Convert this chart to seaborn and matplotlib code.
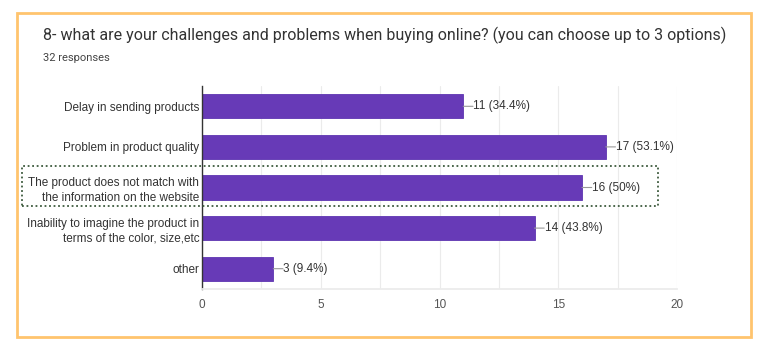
import matplotlib
matplotlib.use("Agg")
import matplotlib.pyplot as plt
import matplotlib.patches as mpatches
import seaborn as sns
import pandas as pd
from matplotlib.ticker import MultipleLocator

categories = [
    "Delay in sending products",
    "Problem in product quality",
    "The product does not match with\nthe information on the website",
    "Inability to imagine the product in\nterms of the color, size,etc",
    "other",
]
counts = [11, 17, 16, 14, 3]
percents = ["34.4%", "53.1%", "50%", "43.8%", "9.4%"]
xticks = [0, 5, 10, 15, 20]
title = "8- what are your challenges and problems when buying online? (you can choose up to 3 options)"
subtitle = "32 responses"

sns.set_theme(style="white")
plt.rcParams['font.family'] = ['Liberation Sans', 'DejaVu Sans']

W, H = 768, 353
fig = plt.figure(figsize=(W / 100, H / 100), dpi=100)
ax = fig.add_axes([202 / W, 1 - 289 / H, (677 - 202) / W, (289 - 86) / H])

df = pd.DataFrame({"cat": categories, "n": counts})
sns.barplot(data=df, y="cat", x="n", color="#673ab7", saturation=1, width=0.6,
            ax=ax, orient="h")
for p in ax.patches:
    p.set_edgecolor("#5e35b1")
    p.set_linewidth(0.6)

ax.set_xlim(0, 20)
ax.set_ylim(4.5, -0.5)
ax.set_xticks(xticks)
ax.xaxis.set_minor_locator(MultipleLocator(2.5))
ax.grid(True, axis="x", which="both", color="#ebebeb", linewidth=0.8)
ax.set_axisbelow(True)
for s in ["top", "right"]:
    ax.spines[s].set_visible(False)
ax.spines["bottom"].set_color("#ebebeb")
ax.spines["left"].set_color("#333333")
ax.spines["left"].set_linewidth(1.0)
ax.set_xlabel("")
ax.set_ylabel("")
ax.tick_params(axis="x", colors="#444444", labelsize=8.5, length=0, pad=7)
ax.tick_params(axis="y", colors="#222222", labelsize=8.5, length=0, pad=2)
for lbl in ax.get_yticklabels():
    lbl.set_horizontalalignment("right")
    lbl.set_multialignment("right")
    lbl.set_linespacing(1.35)
    lbl.set_color("#333333")
for lbl in ax.get_xticklabels():
    lbl.set_color("#555555")

for i, (c, pc) in enumerate(zip(counts, percents)):
    # leader line
    ax.annotate("", xy=(c, i), xytext=(7, 0), textcoords="offset points",
                arrowprops=dict(arrowstyle="-", color="#999999", lw=0.8,
                                shrinkA=0, shrinkB=0))
    ax.annotate(f"{c} ({pc})", xy=(c, i), xytext=(7.3, 0), textcoords="offset points",
                va="center", ha="left", fontsize=8.5, color="#333333")

# title texts
fig.text(43 / W, 1 - 35 / H, title, fontsize=11.5, color="#333333",
         family=["Roboto", "DejaVu Sans"], va="center", ha="left")
fig.text(43 / W, 1 - 58 / H, subtitle, fontsize=8, color="#444444",
         family=["Roboto", "DejaVu Sans"], va="center", ha="left")

# orange frame
fig.patches.append(mpatches.Rectangle((17 / W, 1 - 337 / H), (751 - 17) / W, (337 - 13) / H,
                                      transform=fig.transFigure, fill=False,
                                      edgecolor="#ffc46e", linewidth=2))
# dotted highlight box
fig.patches.append(mpatches.Rectangle((22 / W, 1 - 206 / H), (658 - 22) / W, (206 - 166) / H,
                                      transform=fig.transFigure, fill=False,
                                      edgecolor="#3d5a3d", linewidth=1.3,
                                      linestyle=(0, (1, 1.5))))

fig.savefig("out.png", dpi=100, facecolor="white")
